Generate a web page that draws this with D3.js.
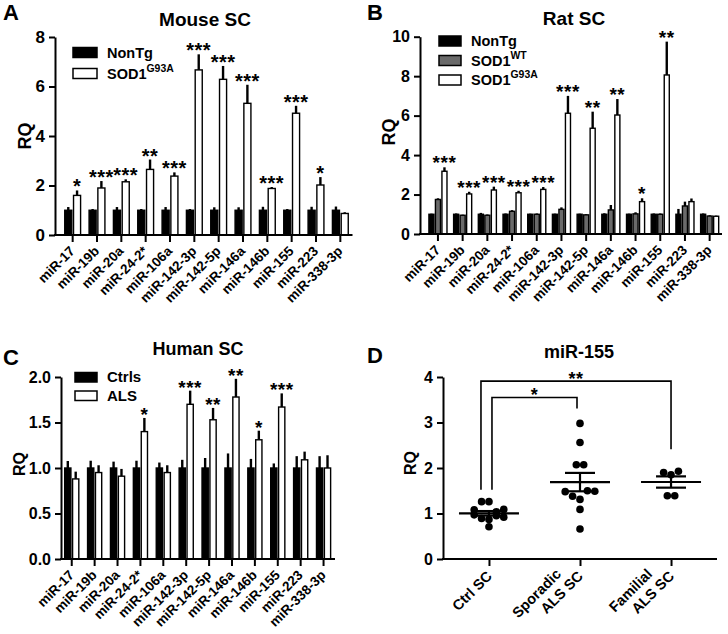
<!DOCTYPE html>
<html><head><meta charset="utf-8">
<script src="https://cdn.jsdelivr.net/npm/d3@7"></script>
<style>
body{margin:0;background:#fff}
svg{display:block}
text{font-family:"Liberation Sans",Arial,sans-serif;font-weight:bold;fill:#000}
</style>
</head><body>
<svg id="chart" width="728" height="634"></svg>
<script>
// ---------- DATA ----------
const mirs = ["miR-17","miR-19b","miR-20a","miR-24-2*","miR-106a","miR-142-3p","miR-142-5p","miR-146a","miR-146b","miR-155","miR-223","miR-338-3p"];

// Panel A: Mouse SC
const mouseNonTg    = [1,1,1,1,1,1,1,1,1,1,1,1];
const mouseNonTgErr = [0.13,0.05,0.13,0.05,0.13,0.05,0.12,0.12,0.14,0.05,0.14,0.15];
const mouseG93A     = [1.6,1.9,2.15,2.65,2.38,6.67,6.29,5.32,1.88,4.92,2.02,0.87];
const mouseG93AErr  = [0.2,0.28,0.1,0.4,0.15,0.63,0.54,0.75,0.06,0.3,0.32,0.05];
const mouseSig      = ["*","***","***","**","***","***","***","***","***","***","*",""];
const mouseTicks    = [0,2,4,6,8];

// Panel B: Rat SC
const ratNonTg    = [1,1,1,1,1,1,1,1,1,1,1,1];
const ratNonTgErr = [0.03,0.04,0.07,0.04,0.03,0.03,0.03,0.05,0.03,0.04,0.27,0.04];
const ratWT       = [1.75,0.95,0.95,1.15,1.0,1.25,0.97,1.22,1.02,1.0,1.42,0.91];
const ratWTErr    = [0.06,0.03,0.04,0.06,0.04,0.1,0.04,0.25,0.08,0.04,0.22,0.04];
const ratG93A     = [3.18,2.03,2.23,2.09,2.26,6.12,5.36,6.03,1.64,8.06,1.64,0.9];
const ratG93AErr  = [0.2,0.11,0.17,0.1,0.12,0.88,0.84,0.81,0.17,1.69,0.16,0.03];
const ratSig      = ["***","***","***","***","***","***","**","**","*","**","",""];
const ratTicks    = [0,2,4,6,8,10];

// Panel C: Human SC
const humanCtrl    = [1,1,1,1,1,1,1,1,1,1,1,1];
const humanCtrlErr = [0.077,0.08,0.07,0.08,0.06,0.09,0.11,0.16,0.1,0.05,0.13,0.13];
const humanALS     = [0.88,0.95,0.91,1.4,0.95,1.7,1.53,1.78,1.31,1.67,1.09,1.0];
const humanALSErr  = [0.08,0.08,0.08,0.15,0.08,0.15,0.13,0.2,0.1,0.15,0.09,0.14];
const humanSig     = ["","","","*","","***","**","**","*","***","",""];
const humanTicks   = [0,0.5,1.0,1.5,2.0];

// Panel D: miR-155 scatter
const groupsD     = ["Ctrl SC","Sporadic ALS SC","Familial ALS SC"];
const groupLinesD = [["Ctrl SC"],["Sporadic","ALS SC"],["Familial","ALS SC"]];
const ctrlSC      = [1.08,1.26,1.26,0.97,0.89,0.71,0.87,1.04,1.09,0.95,0.92];
const sporadicSC  = [2.98,2.56,2.07,2.07,1.48,1.38,1.31,1.50,1.49,1.09,0.66];
const familialSC  = [1.90,1.85,1.93,1.39,1.39];
const ticksD      = [0,1,2,3,4];
const compsD      = [{a:0,b:2,label:"**"},{a:0,b:1,label:"*"}];

// ---------- DRAW ----------
const svg = d3.select("#chart");
const F = '"Liberation Sans",Arial,sans-serif';

function panelLetter(t,x,y){ svg.append("text").attr("x",x).attr("y",y).attr("font-size",22).text(t); }
function title(t,x,y,fs){ svg.append("text").attr("x",x).attr("y",y).attr("text-anchor","middle").attr("font-size",fs).text(t); }
function ylab(t,x,y,fs){ svg.append("text").attr("transform",`translate(${x},${y}) rotate(-90)`).attr("text-anchor","middle").attr("font-size",fs).text(t); }

function yAxis(y, ax, ticks, fmt, fs){
  const g = svg.append("g").attr("transform",`translate(${ax},0)`)
    .call(d3.axisLeft(y).tickValues(ticks).tickFormat(fmt).tickSize(6).tickSizeOuter(0).tickPadding(4));
  g.select(".domain").attr("stroke","#000").attr("stroke-width",2);
  g.selectAll(".tick line").attr("stroke","#000").attr("stroke-width",2);
  g.selectAll(".tick text").attr("font-size",fs).attr("font-family",F).attr("font-weight","bold").attr("fill","#000");
  return g;
}

function xAxisBand(x, y0, ax, xEnd, labels, fs){
  svg.append("line").attr("x1",ax-1).attr("x2",xEnd).attr("y1",y0).attr("y2",y0).attr("stroke","#000").attr("stroke-width",2);
  const g = svg.append("g").attr("transform",`translate(0,${y0})`)
    .call(d3.axisBottom(x).tickSize(7).tickSizeOuter(0).tickFormat(""));
  g.select(".domain").remove();
  g.selectAll(".tick line").attr("stroke","#000").attr("stroke-width",2);
  const cx = d => (x.bandwidth ? x(d)+x.bandwidth()/2 : x(d));
  svg.append("g").selectAll("text").data(labels).join("text")
    .attr("transform", d=>`translate(${cx(d)+3},${y0+17}) rotate(-45)`)
    .attr("text-anchor","end").attr("font-size",fs).text(d=>d);
}

function barPanel(c){
  const y = d3.scaleLinear().domain([0,d3.max(c.ticks)]).range([c.y0,c.yTop]);
  const x = d3.scaleBand().domain(mirs).range(c.xRange).paddingInner(c.pi).paddingOuter(c.po);
  const x1 = d3.scaleBand().domain(d3.range(c.series.length)).range([0,x.bandwidth()]).paddingInner(c.gap);
  c.series.forEach((s,si)=>{
    const g = svg.append("g");
    g.selectAll("line").data(s.values).join("line")
      .attr("x1",(d,i)=>x(mirs[i])+x1(si)+x1.bandwidth()/2)
      .attr("x2",(d,i)=>x(mirs[i])+x1(si)+x1.bandwidth()/2)
      .attr("y1",d=>y(d)).attr("y2",(d,i)=>y(d+s.err[i]))
      .attr("stroke","#000").attr("stroke-width",2.4);
    g.selectAll("rect").data(s.values).join("rect")
      .attr("x",(d,i)=>x(mirs[i])+x1(si)+0.6)
      .attr("y",d=>y(d))
      .attr("width",x1.bandwidth()-1.2)
      .attr("height",d=>y(0)-y(d))
      .attr("fill",s.fill).attr("stroke","#000").attr("stroke-width",1.4);
  });
  const last = c.series[c.series.length-1], li = c.series.length-1;
  svg.append("g").selectAll("text").data(c.sig).join("text")
    .attr("x",(d,i)=>x(mirs[i])+x1(li)+x1.bandwidth()/2)
    .attr("y",(d,i)=>y(last.values[i]+last.err[i])+c.starDy)
    .attr("text-anchor","middle").attr("font-size",c.starFs).attr("letter-spacing",0.5).text(d=>d);
  yAxis(y, c.ax, c.ticks, c.fmt, c.tickFs);
  xAxisBand(x, c.y0, c.ax, c.xRange[1], mirs, 13.5);
  // legend
  c.series.forEach((s,si)=>{
    const ly = c.legY + si*c.legStep;
    svg.append("rect").attr("x",c.legX).attr("y",ly-c.legH).attr("width",c.legW).attr("height",c.legH)
      .attr("fill",s.fill).attr("stroke","#000").attr("stroke-width",1.5);
    const t = svg.append("text").attr("x",c.legX+c.legW+10).attr("y",ly).attr("font-size",c.legFs);
    t.append("tspan").text(s.name);
    if(s.sup) t.append("tspan").attr("dy",-7).attr("font-size",c.legFs*0.72).text(s.sup);
  });
}

// Panel A
panelLetter("A",3,20);
title("Mouse SC",205,26,19);
ylab("RQ",31,136,18);
barPanel({
  ticks:mouseTicks, fmt:d3.format("d"), y0:235, yTop:37, ax:55, xRange:[60.5,352.5], pi:0.3, po:0.15, gap:0.06,
  series:[{name:"NonTg",values:mouseNonTg,err:mouseNonTgErr,fill:"#000"},
          {name:"SOD1",sup:"G93A",values:mouseG93A,err:mouseG93AErr,fill:"#fff"}],
  sig:mouseSig, starFs:20, starDy:3, tickFs:17,
  legX:73, legY:57.5, legStep:21, legW:24, legH:10, legFs:14.5
});

// Panel B
panelLetter("B",367,20);
title("Rat SC",574,25,19);
ylab("RQ",395,132,18);
barPanel({
  ticks:ratTicks, fmt:d3.format("d"), y0:234, yTop:36.7, ax:420, xRange:[425.6,722], pi:0.22, po:0.11, gap:0.04,
  series:[{name:"NonTg",values:ratNonTg,err:ratNonTgErr,fill:"#000"},
          {name:"SOD1",sup:"WT",values:ratWT,err:ratWTErr,fill:"#6a6a6a"},
          {name:"SOD1",sup:"G93A",values:ratG93A,err:ratG93AErr,fill:"#fff"}],
  sig:ratSig, starFs:19, starDy:2, tickFs:16,
  legX:439, legY:46, legStep:19.5, legW:22, legH:10, legFs:14.5
});

// Panel C
panelLetter("C",3,365);
title("Human SC",198,355,18);
ylab("RQ",25,464,16);
barPanel({
  ticks:humanTicks, fmt:d3.format(".1f"), y0:559, yTop:377, ax:61, xRange:[60.3,335], pi:0.33, po:0.165, gap:0.06,
  series:[{name:"Ctrls",values:humanCtrl,err:humanCtrlErr,fill:"#000"},
          {name:"ALS",values:humanALS,err:humanALSErr,fill:"#fff"}],
  sig:humanSig, starFs:19, starDy:3, tickFs:16,
  legX:75, legY:382, legStep:18.5, legW:22, legH:9.5, legFs:15
});

// Panel D
panelLetter("D",367,363);
title("miR-155",579,358,18);
ylab("RQ",416,463,16);
(function(){
  const y = d3.scaleLinear().domain([0,4]).range([559,377]);
  const x = d3.scalePoint().domain(groupsD).range([443,717]).padding(0.505);
  const sets = [ctrlSC, sporadicSC, familialSC];
  const r = 3.8, sp = 7.4, binH = 11;
  sets.forEach((vals,gi)=>{
    const cx = x(groupsD[gi]);
    // row-based dot layout (GraphPad-style)
    const idx = vals.map((v,i)=>i).sort((a,b)=>vals[b]-vals[a]);
    const bins = []; let cur = null;
    idx.forEach(i=>{
      const py = y(vals[i]);
      if(!cur || py - cur.start > binH){ cur = {start:py, items:[]}; bins.push(cur); }
      cur.items.push(i);
    });
    const pos = [];
    bins.forEach(b=>{
      b.items.sort((a,c)=>a-c);
      b.items.forEach((i,j)=>pos.push({v:vals[i], px: cx + (j-(b.items.length-1)/2)*sp}));
    });
    svg.append("g").selectAll("circle").data(pos).join("circle")
      .attr("cx",d=>d.px).attr("cy",d=>y(d.v)).attr("r",r).attr("fill","#000");
    const m = d3.mean(vals), sem = d3.deviation(vals)/Math.sqrt(vals.length);
    const g = svg.append("g").attr("stroke","#000").attr("stroke-width",2.2);
    g.append("line").attr("x1",cx-30).attr("x2",cx+30).attr("y1",y(m)).attr("y2",y(m));
    g.append("line").attr("x1",cx).attr("x2",cx).attr("y1",y(m-sem)).attr("y2",y(m+sem));
    [m-sem,m+sem].forEach(v=>g.append("line").attr("x1",cx-15).attr("x2",cx+15).attr("y1",y(v)).attr("y2",y(v)));
  });
  // significance brackets
  const levels = [{top:3.91, leftOff:-8, leftBot:1.52, rightBot:2.41},{top:3.55, leftOff:3, leftBot:1.52, rightBot:3.31}];
  compsD.forEach((c,k)=>{
    const L = levels[k];
    const xa = x(groupsD[c.a]) + L.leftOff, xb = x(groupsD[c.b]) - (k===1?3:0);
    svg.append("path").attr("d",`M${xa},${y(L.leftBot)}V${y(L.top)}H${xb}V${y(L.rightBot)}`)
      .attr("fill","none").attr("stroke","#000").attr("stroke-width",1.6);
    svg.append("text").attr("x",(xa+xb)/2).attr("y",y(L.top)+4).attr("text-anchor","middle")
      .attr("font-size",18).attr("letter-spacing",0.5).text(c.label);
  });
  yAxis(y, 443, ticksD, d3.format("d"), 16);
  svg.append("line").attr("x1",442).attr("x2",717).attr("y1",559).attr("y2",559).attr("stroke","#000").attr("stroke-width",2);
  const gx = svg.append("g").attr("transform","translate(0,559)")
    .call(d3.axisBottom(x).tickSize(7).tickSizeOuter(0).tickFormat(""));
  gx.select(".domain").remove();
  gx.selectAll(".tick line").attr("stroke","#000").attr("stroke-width",2);
  groupLinesD.forEach((lines,gi)=>{
    const t = svg.append("g").attr("transform",`translate(${x(groupsD[gi])+4},${559+18}) rotate(-45)`);
    lines.forEach((ln,li)=>{
      const off = lines.length-1-li;
      t.append("text").attr("x",-off*14).attr("y",-off*17).attr("text-anchor","end").attr("font-size",14.5).text(ln);
    });
  });
})();
</script>
</body></html>
